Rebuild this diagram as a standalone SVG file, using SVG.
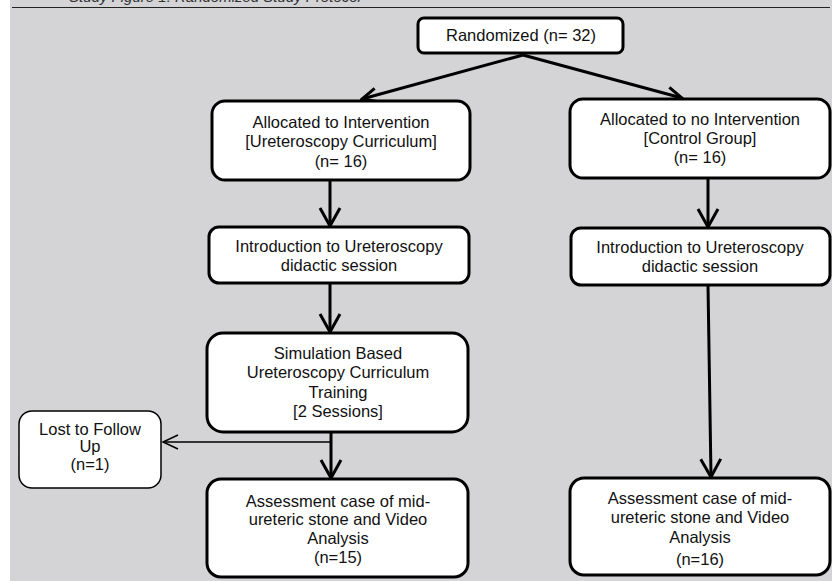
<svg xmlns="http://www.w3.org/2000/svg" width="839" height="581" viewBox="0 0 839 581">
<defs>
<style>
.box{fill:#fff;stroke:#000;stroke-width:3}
.thin{fill:#fff;stroke:#000;stroke-width:1.5}
text{font-family:"Liberation Sans",Arial,sans-serif;font-size:16.5px;fill:#111;text-anchor:middle}
.c{fill:none;stroke:#000;stroke-width:3}
.ct{fill:none;stroke:#000;stroke-width:1.5}
</style>
<marker id="ah" markerUnits="userSpaceOnUse" viewBox="-22 -13 24 26" refX="0" refY="0" markerWidth="24" markerHeight="26" orient="auto">
<path d="M-18,-10 L0,0 L-18,10" fill="none" stroke="#000" stroke-width="3"/>
</marker>
<marker id="ahs" markerUnits="userSpaceOnUse" viewBox="-18 -10 20 20" refX="0" refY="0" markerWidth="20" markerHeight="20" orient="auto">
<path d="M-15,-7 L0,0 L-15,7" fill="none" stroke="#000" stroke-width="3"/>
</marker>
<marker id="aht" markerUnits="userSpaceOnUse" viewBox="-18 -10 20 20" refX="0" refY="0" markerWidth="20" markerHeight="20" orient="auto">
<path d="M-15,-7 L0,0 L-15,7" fill="none" stroke="#000" stroke-width="1.5"/>
</marker>
</defs>
<rect x="10" y="0" width="822" height="581" fill="#d4d4d6"/>
<text x="215" y="2" style="font-style:italic;fill:#333;font-size:15px">Study Figure 1: Randomized Study Protocol</text>
<line x1="12" y1="7.5" x2="830" y2="7.5" stroke="#222" stroke-width="1"/>

<g id="connectors">
<line class="c" x1="523" y1="55" x2="362" y2="99" marker-end="url(#ahs)"/>
<line class="c" x1="523" y1="55" x2="682" y2="98" marker-end="url(#ahs)"/>
<line class="c" x1="330" y1="180" x2="330" y2="226" marker-end="url(#ah)"/>
<line class="c" x1="708" y1="178" x2="708" y2="227" marker-end="url(#ah)"/>
<line class="c" x1="330" y1="283" x2="330" y2="332" marker-end="url(#ah)"/>
<line class="c" x1="331" y1="432" x2="331" y2="478" marker-end="url(#ah)"/>
<line class="ct" x1="331" y1="442" x2="163" y2="442" marker-end="url(#aht)"/>
<line class="c" x1="708" y1="285" x2="711" y2="477" marker-end="url(#ah)"/>
</g>

<g id="randomized">
<rect class="box" x="418" y="18" width="205" height="35" rx="6"/>
<text x="521" y="41">Randomized (n= 32)</text>
</g>
<g id="alloc-intervention">
<rect class="box" x="212" y="101" width="258" height="79" rx="13"/>
<text x="341" y="128">Allocated to Intervention</text>
<text x="341" y="147">[Ureteroscopy Curriculum]</text>
<text x="341" y="167">(n= 16)</text>
</g>
<g id="alloc-control">
<rect class="box" x="570" y="99" width="260" height="79" rx="13"/>
<text x="700" y="125">Allocated to no Intervention</text>
<text x="700" y="144">[Control Group]</text>
<text x="700" y="163">(n= 16)</text>
</g>
<g id="intro-left">
<rect class="box" x="209" y="227" width="260" height="56" rx="10"/>
<text x="339" y="252">Introduction to Ureteroscopy</text>
<text x="339" y="271">didactic session</text>
</g>
<g id="intro-right">
<rect class="box" x="571" y="228" width="259" height="57" rx="10"/>
<text x="700" y="253">Introduction to Ureteroscopy</text>
<text x="700" y="272">didactic session</text>
</g>
<g id="simulation">
<rect class="box" x="207" y="333" width="261" height="99" rx="16"/>
<text x="338" y="359">Simulation Based</text>
<text x="338" y="378">Ureteroscopy Curriculum</text>
<text x="338" y="398">Training</text>
<text x="338" y="417">[2 Sessions]</text>
</g>
<g id="lost">
<rect class="thin" x="19" y="411" width="142" height="77" rx="13"/>
<text x="90" y="435">Lost to Follow</text>
<text x="90" y="452">Up</text>
<text x="90" y="470">(n=1)</text>
</g>
<g id="assess-left">
<rect class="box" x="207" y="479" width="261" height="98" rx="14"/>
<text x="338" y="507">Assessment case of mid-</text>
<text x="338" y="525">ureteric stone and Video</text>
<text x="338" y="544">Analysis</text>
<text x="338" y="563">(n=15)</text>
</g>
<g id="assess-right">
<rect class="box" x="570" y="478" width="260" height="97" rx="14"/>
<text x="700" y="504">Assessment case of mid-</text>
<text x="700" y="523">ureteric stone and Video</text>
<text x="700" y="543">Analysis</text>
<text x="700" y="565">(n=16)</text>
</g>
</svg>
